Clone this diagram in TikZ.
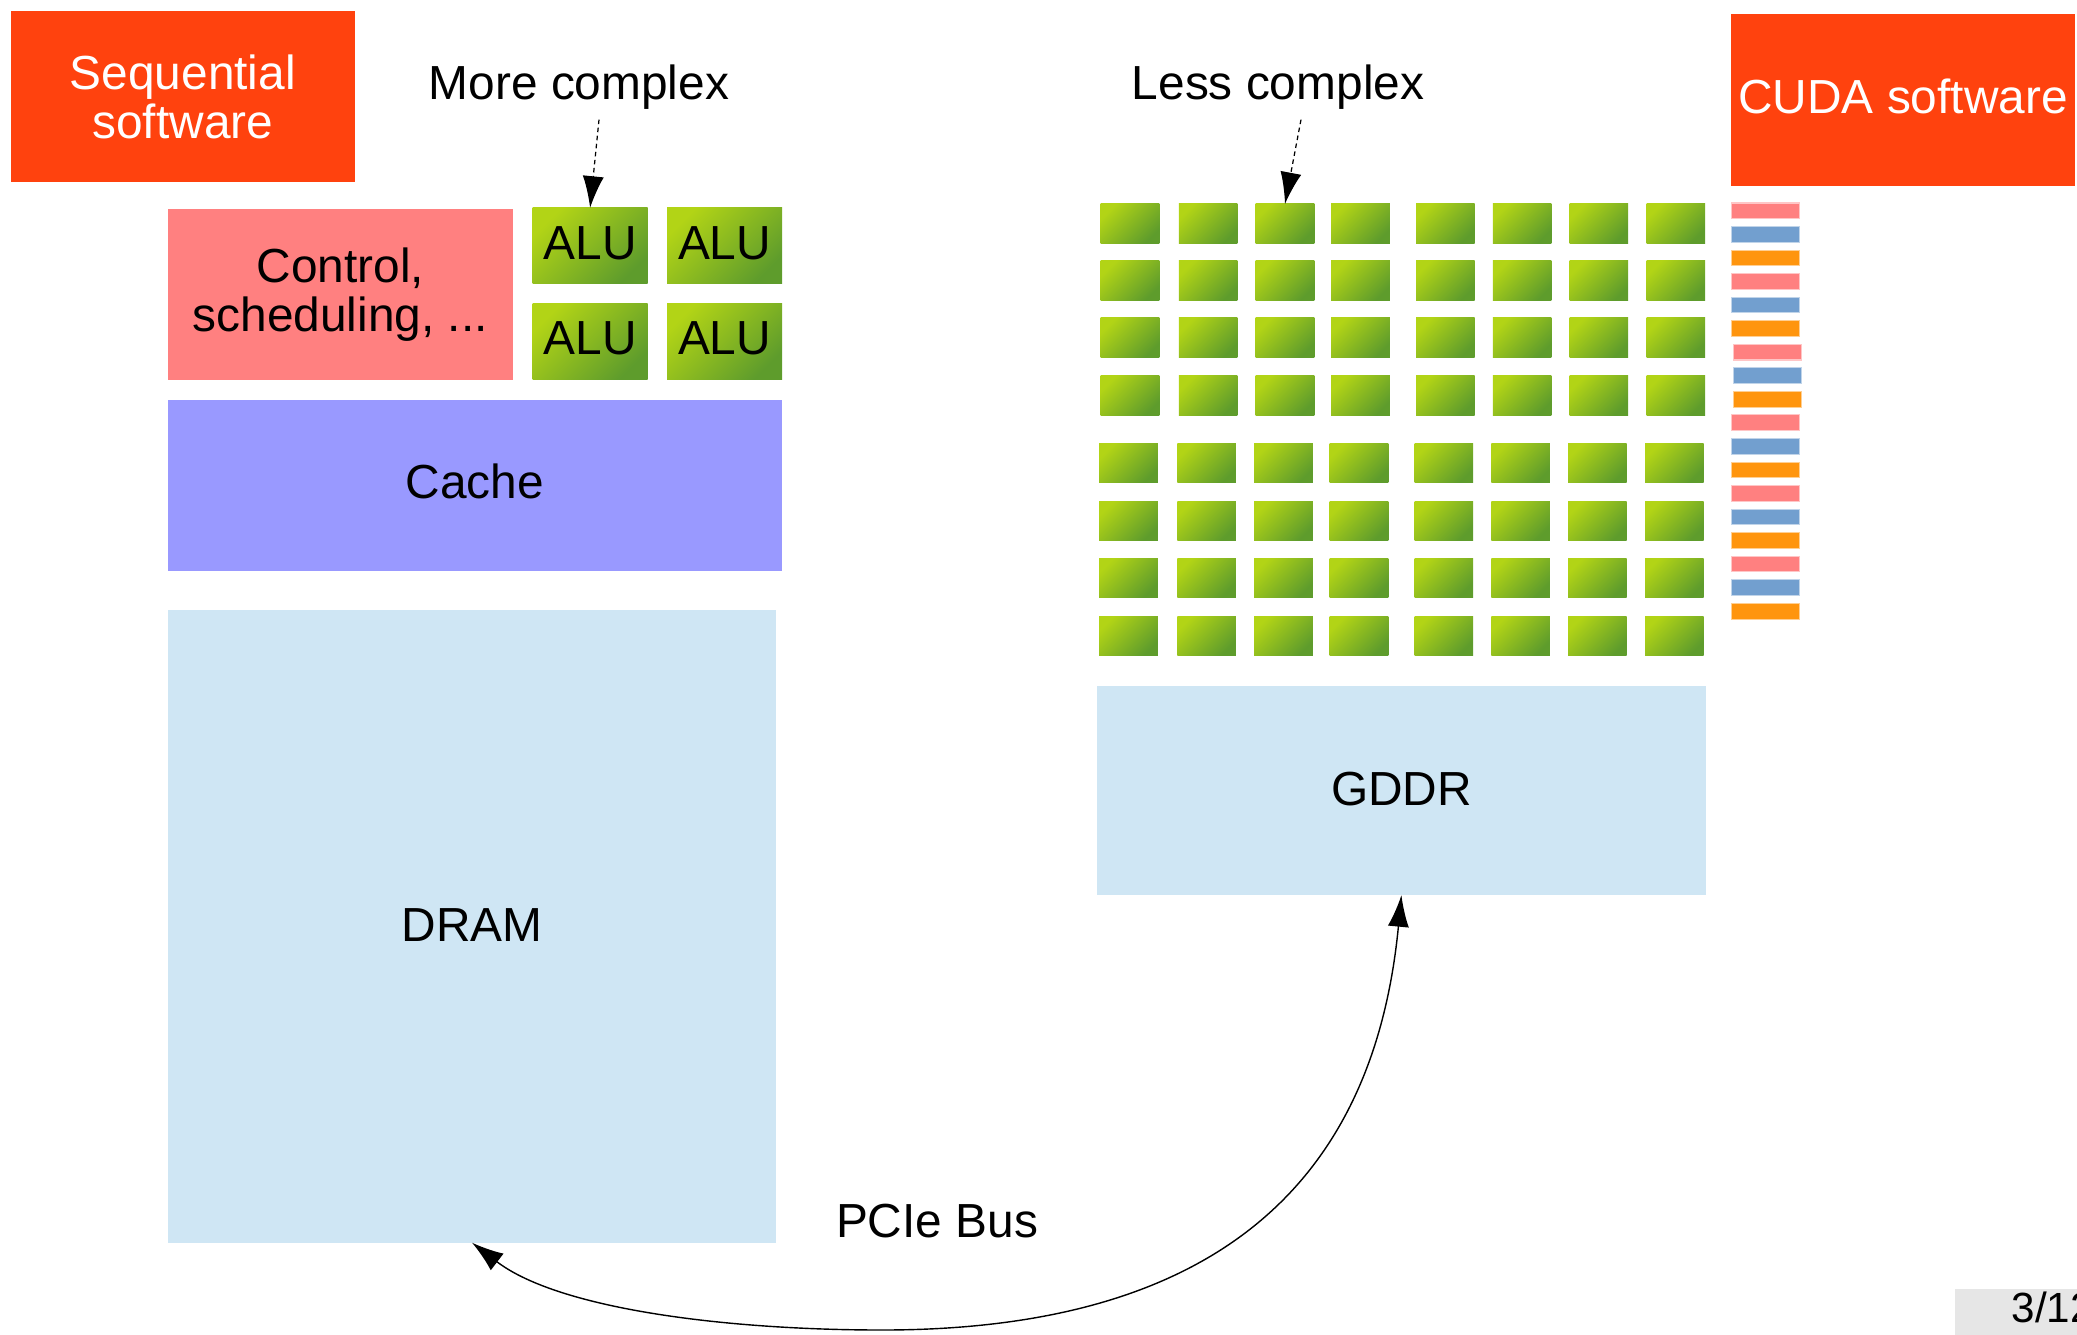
\documentclass[tikz,border=0pt]{standalone}
\usepackage{fontspec}
\setmainfont{Liberation Sans}
\usetikzlibrary{arrows.meta,calc}
\definecolor{swred}{HTML}{FF420E}
\definecolor{ctrlpink}{HTML}{FF8080}
\definecolor{cachebl}{HTML}{9999FF}
\definecolor{membl}{HTML}{CFE6F4}
\definecolor{gtop}{HTML}{B2D416}
\definecolor{gbot}{HTML}{5E9C2C}
\definecolor{stpink}{HTML}{FF8080}
\definecolor{stblue}{HTML}{729FCF}
\definecolor{storange}{HTML}{FF950E}
\definecolor{pagegray}{HTML}{E6E6E6}
\begin{document}
\begin{tikzpicture}[x=0.01cm,y=-0.01cm,
  txt/.style={font=\fontsize{13.6}{14}\selectfont, align=center},
  blk/.style={inner sep=0pt, outer sep=0pt, txt},
  raise/.style={text depth=#1},
  sw/.style={blk, fill=swred, text=white, minimum width=3.44cm, minimum height=1.71cm},
  greenbox/.style={shade, top color=gtop, bottom color=gbot, shading angle=45},
  alu/.style={blk, greenbox, raise=0.053cm, minimum width=1.15cm, minimum height=0.757cm},
  cell/.style={inner sep=0pt, outer sep=0pt, greenbox, minimum width=0.585cm, minimum height=0.392cm, anchor=north west},
  stripe/.style={inner sep=0pt, outer sep=0pt, minimum width=0.68cm, minimum height=0.157cm, anchor=north west, line width=0.3pt},
  mem/.style={blk, fill=membl, raise=0.026cm},
  note/.style={-{Latex[length=9pt,width=6pt]}, dash pattern=on 1.3pt off 1pt, line width=0.35pt},
  bus/.style={{Latex[length=9pt,width=6pt]}-{Latex[length=9pt,width=6pt]}, line width=0.4pt}
]
\clip (0,0) rectangle (2077,1334);

% software boxes
\node[sw] (seq) at (182.8,96.8) {Sequential\\software};
\node[sw, raise=0.08cm] (cuda) at (1903,100) {CUDA software};

% labels
\node[txt, anchor=base, inner sep=0pt] (more) at (579,100) {More complex};
\node[txt, anchor=base, inner sep=0pt] (less) at (1278,100) {Less complex};
\node[txt, anchor=base, inner sep=0pt] (pcie) at (937,1237) {PCIe Bus};

% CPU
\node[blk, fill=ctrlpink, minimum width=3.446cm, minimum height=1.71cm] (ctrl) at (340.3,294.5) {Control,\\scheduling, ...};
\node[alu] (alu1) at (590.1,245.75) {ALU};
\node[alu] (alu2) at (724.6,245.75) {ALU};
\node[alu] (alu3) at (590.1,341.2) {ALU};
\node[alu] (alu4) at (724.6,341.2) {ALU};
\node[blk, fill=cachebl, raise=0.08cm, minimum width=6.135cm, minimum height=1.71cm] (cache) at (474.75,485.5) {Cache};
\node[mem, minimum width=6.08cm, minimum height=6.32cm] (dram) at (472,926.5) {DRAM};

% GPU cores
\foreach \r/\yy/\dx in {1/204/0,2/261/0,3/318/0,4/376/0,5/443.5/-1.5,6/501/-1.5,7/558/-1.5,8/616/-1.5}{
  \foreach \c/\xx in {1/1100.7,2/1178.9,3/1255.7,4/1331.2,5/1416,6/1492.8,7/1569.6,8/1646.5}{
    \node[cell] (cell-\r-\c) at (\xx+\dx,\yy) {};
  }
}
\node[mem, minimum width=6.092cm, minimum height=2.09cm] (gddr) at (1401.4,790.5) {GDDR};

% threads
\foreach \k in {0,...,5}{
  \foreach \j/\cc in {0/stpink,1/stblue,2/storange}{
    \pgfmathsetmacro{\yy}{203+(3*\k+\j)*23.55}
    \pgfmathsetmacro{\xx}{\k==2 ? 1733.6 : 1731.6}
    \node[stripe, fill=\cc, draw=\cc!45!white] (th-\k-\j) at (\xx,\yy) {};
  }
}

% page number
\node[txt, font=\fontsize{12}{12}\selectfont, fill=pagegray, anchor=base west, inner xsep=0.57cm, inner ysep=0pt, text height=0.33cm, text depth=0.2cm] (page) at (1954,1322) {3/12};

% connectors
\draw[note] ($(more.south)+(20,9)$) -- (alu1.north);
\draw[note] ($(less.south)+(23,9)$) -- (cell-1-3.north);
\coordinate (busbot) at (882,1330);
\draw[bus] (dram.south) .. controls (560,1310) and (730,1330) .. (busbot)
  .. controls (1230,1330) and (1375,1170) .. (gddr.south);
\end{tikzpicture}
\end{document}
